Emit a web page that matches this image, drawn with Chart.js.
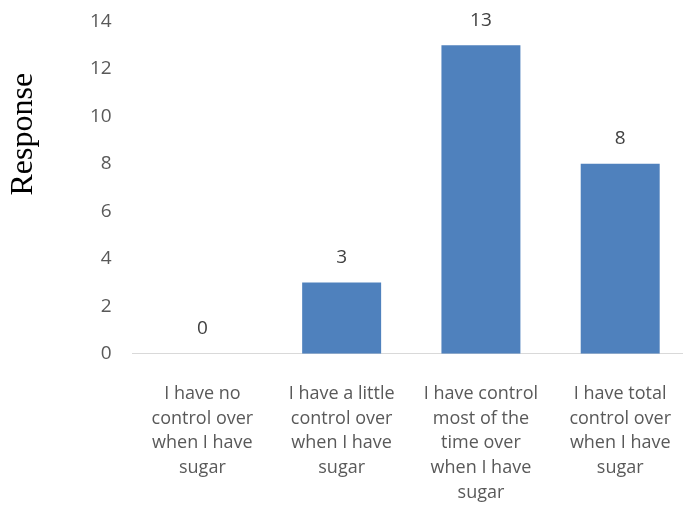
<!DOCTYPE html>
<html>
<head>
<meta charset="utf-8">
<script src="https://cdn.jsdelivr.net/npm/chart.js@4.4.0/dist/chart.umd.min.js"></script>
<style>
  html, body { margin: 0; padding: 0; background: #fff; overflow: hidden; }
  #wrap { width: 699px; height: 551px; position: absolute; left: 0; top: -11px; }
</style>
</head>
<body>
<div id="wrap"><canvas id="chart"></canvas></div>
<script>
// Chart data
const categories = [
  ['I have no', 'control over', 'when I have', 'sugar'],
  ['I have a little', 'control over', 'when I have', 'sugar'],
  ['I have control', 'most of the', 'time over', 'when I have', 'sugar'],
  ['I have total', 'control over', 'when I have', 'sugar']
];
const responses = [0, 3, 13, 8];
const yTicks = [0, 2, 4, 6, 8, 10, 12, 14];
const yTitle = 'Response';

const labelFont = '"Open Sans", "Liberation Sans", sans-serif';

// value labels above bars
const valueLabels = {
  id: 'valueLabels',
  afterDatasetsDraw(chart) {
    const ctx = chart.ctx;
    const meta = chart.getDatasetMeta(0);
    ctx.save();
    ctx.font = '19px ' + labelFont;
    ctx.fillStyle = '#404040';
    ctx.textAlign = 'center';
    ctx.textBaseline = 'middle';
    meta.data.forEach((bar, i) => {
      ctx.fillText(String(responses[i]), bar.x, bar.y - 25);
    });
    ctx.restore();
  }
};

// axis title drawn off-centre like the original
const axisTitle = {
  id: 'axisTitle',
  afterDraw(chart) {
    const ctx = chart.ctx;
    const y = chart.scales.y;
    ctx.save();
    ctx.font = '32px "Liberation Serif", "Times New Roman", serif';
    ctx.fillStyle = '#000';
    ctx.textAlign = 'center';
    ctx.textBaseline = 'middle';
    ctx.translate(24, y.getPixelForValue(9.25));
    ctx.rotate(-Math.PI / 2);
    ctx.fillText(yTitle, 0, 0);
    ctx.restore();
  }
};

new Chart(document.getElementById('chart'), {
  type: 'bar',
  data: {
    labels: categories,
    datasets: [{
      data: responses,
      backgroundColor: '#4f81bd',
      borderWidth: 0,
      barPercentage: 1,
      categoryPercentage: 0.567
    }]
  },
  options: {
    responsive: true,
    maintainAspectRatio: false,
    animation: false,
    layout: { padding: { left: 69, top: 0, right: 0, bottom: 7 } },
    plugins: {
      legend: { display: false },
      tooltip: { enabled: false }
    },
    scales: {
      x: {
        grid: { display: false, drawTicks: false },
        border: { color: '#d9d9d9', width: 1 },
        ticks: {
          color: '#595959',
          font: { family: labelFont, size: 18, lineHeight: 1.37 },
          maxRotation: 0,
          autoSkip: false,
          padding: 28
        }
      },
      y: {
        min: 0,
        max: 14,
        afterBuildTicks(scale) {
          scale.ticks = yTicks.map(v => ({ value: v }));
        },
        grid: { display: false, drawTicks: false },
        border: { display: false },
        ticks: {
          color: '#595959',
          font: { family: labelFont, size: 19 },
          padding: 21
        }
      }
    }
  },
  plugins: [valueLabels, axisTitle]
});
</script>
</body>
</html>
